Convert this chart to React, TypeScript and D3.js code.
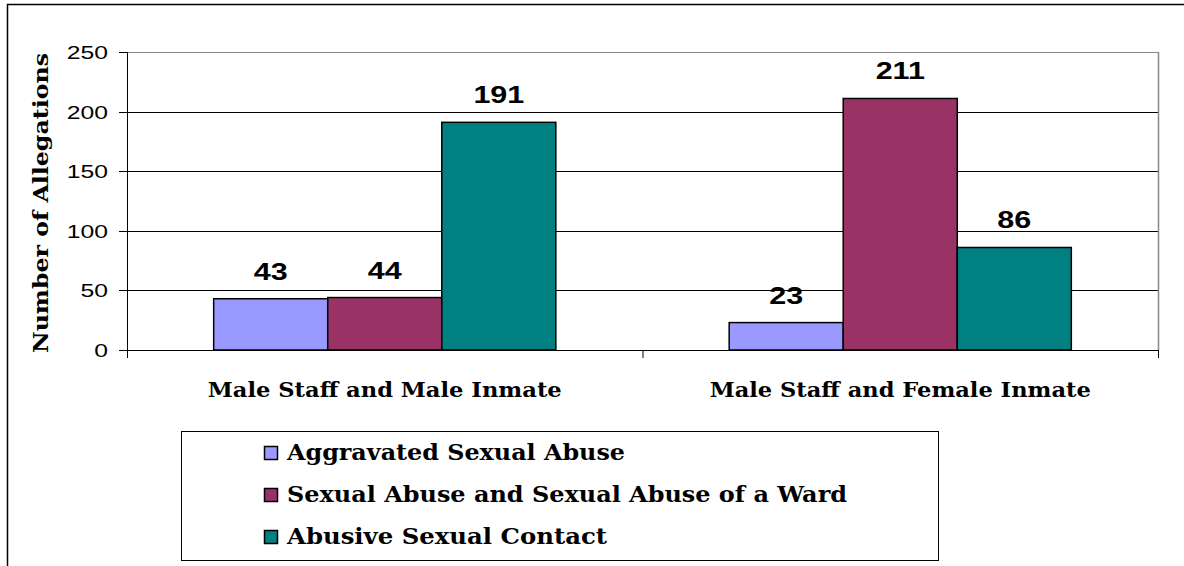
import React from "react";
import * as d3 from "d3";

const categories = ["Male Staff and Male Inmate", "Male Staff and Female Inmate"];
const seriesNames = [
  "Aggravated Sexual Abuse",
  "Sexual Abuse and Sexual Abuse of a Ward",
  "Abusive Sexual Contact",
];
const aggravated = [43, 23];
const sexualAbuse = [44, 211];
const abusiveContact = [191, 86];
const yTicks = [0, 50, 100, 150, 200, 250];

const colors = ["#9999FF", "#993366", "#008080"];
const seriesValues = [aggravated, sexualAbuse, abusiveContact];

// text widths (style) to mimic the original wide font
const catLabelWidths = [354, 381];
const legendWidths = [338, 560, 320];

const W = 1184;
const H = 566;
const plot = { left: 127, right: 1158, top: 52, bottom: 350 };

export default function App() {
  const x0 = d3
    .scaleBand<string>()
    .domain(categories)
    .range([plot.left, plot.right])
    .paddingInner(0)
    .paddingOuter(0);
  const x1 = d3
    .scaleBand<number>()
    .domain([0, 1, 2])
    .range([0, x0.bandwidth()])
    .paddingOuter(0.76)
    .paddingInner(0);
  const y = d3.scaleLinear().domain([0, 250]).range([plot.bottom, plot.top]);

  const serif = "'DejaVu Serif', serif";
  const sans = "'Liberation Sans', Arial, sans-serif";

  return (
    <svg
      width={W}
      height={H}
      style={{ position: "absolute", left: 0, top: 0, background: "#fff" }}
    >
      <rect x={0} y={0} width={W} height={H} fill="#fff" />
      {/* outer frame */}
      <rect x={7.5} y={4.5} width={W + 20} height={H + 20} fill="none" stroke="#000" strokeWidth={1.5} />

      {/* gridlines */}
      {yTicks.map((t) => (
        <line
          key={"g" + t}
          x1={plot.left}
          x2={plot.right}
          y1={Math.round(y(t)) + 0.5}
          y2={Math.round(y(t)) + 0.5}
          stroke={t === 250 ? "#888" : "#000"}
          strokeWidth={1}
        />
      ))}
      {/* right plot border */}
      <line x1={plot.right + 0.5} x2={plot.right + 0.5} y1={plot.top} y2={plot.bottom} stroke="#888" strokeWidth={1.5} />

      {/* bars */}
      {categories.map((c, ci) =>
        seriesValues.map((vals, si) => {
          const bx = (x0(c) as number) + (x1(si) as number);
          return (
            <rect
              key={c + si}
              x={bx}
              y={y(vals[ci])}
              width={x1.bandwidth()}
              height={y(0) - y(vals[ci])}
              fill={colors[si]}
              stroke="#000"
              strokeWidth={1.5}
            />
          );
        })
      )}

      {/* data labels */}
      {categories.map((c, ci) =>
        seriesValues.map((vals, si) => {
          const cx = (x0(c) as number) + (x1(si) as number) + x1.bandwidth() / 2;
          return (
            <text
              key={"l" + c + si}
              transform={`translate(${cx},${y(vals[ci]) - 19}) scale(1.27,1)`}
              textAnchor="middle"
              fontFamily={sans}
              fontWeight="bold"
              fontSize={24}
              fill="#000"
            >
              {vals[ci]}
            </text>
          );
        })
      )}

      {/* y axis */}
      <line x1={plot.left + 0.5} x2={plot.left + 0.5} y1={plot.top} y2={plot.bottom + 7} stroke="#000" strokeWidth={1} />
      {yTicks.map((t) => (
        <g key={"t" + t}>
          <line
            x1={plot.left - 8}
            x2={plot.left}
            y1={Math.round(y(t)) + 0.5}
            y2={Math.round(y(t)) + 0.5}
            stroke="#000"
          />
          <text
            transform={`translate(108,${y(t) + 7}) scale(1.3,1)`}
            textAnchor="end"
            fontFamily={sans}
            fontSize={19}
            fill="#000"
          >
            {t}
          </text>
        </g>
      ))}

      {/* x axis */}
      <line x1={plot.left} x2={plot.right} y1={plot.bottom + 0.5} y2={plot.bottom + 0.5} stroke="#000" strokeWidth={1} />
      {[plot.left, (x0(categories[1]) as number), plot.right].map((tx, i) => (
        <line key={"xt" + i} x1={tx + 0.5} x2={tx + 0.5} y1={plot.bottom} y2={plot.bottom + 8} stroke="#000" />
      ))}
      {categories.map((c, ci) => {
        const cx = (x0(c) as number) + x0.bandwidth() / 2;
        return (
          <text
            key={"c" + c}
            x={cx - catLabelWidths[ci] / 2}
            y={397}
            textLength={catLabelWidths[ci]}
            lengthAdjust="spacingAndGlyphs"
            fontFamily={serif}
            fontWeight="bold"
            fontSize={20}
            fill="#000"
          >
            {c}
          </text>
        );
      })}

      {/* y axis title */}
      <text
        transform={`translate(48,353) rotate(-90)`}
        textLength={300}
        lengthAdjust="spacingAndGlyphs"
        fontFamily={serif}
        fontWeight="bold"
        fontSize={21}
        fill="#000"
      >
        Number of Allegations
      </text>

      {/* legend */}
      <rect x={181.5} y={431.5} width={757} height={129} fill="#fff" stroke="#000" strokeWidth={1} />
      {seriesNames.map((n, i) => {
        const by = 460 + i * 42;
        return (
          <g key={"lg" + i}>
            <rect x={264.5} y={by - 13.5} width={13} height={13} fill={colors[i]} stroke="#000" strokeWidth={1.5} />
            <text
              x={287}
              y={by}
              textLength={legendWidths[i]}
              lengthAdjust="spacingAndGlyphs"
              fontFamily={serif}
              fontWeight="bold"
              fontSize={23}
              fill="#000"
            >
              {n}
            </text>
          </g>
        );
      })}
    </svg>
  );
}
